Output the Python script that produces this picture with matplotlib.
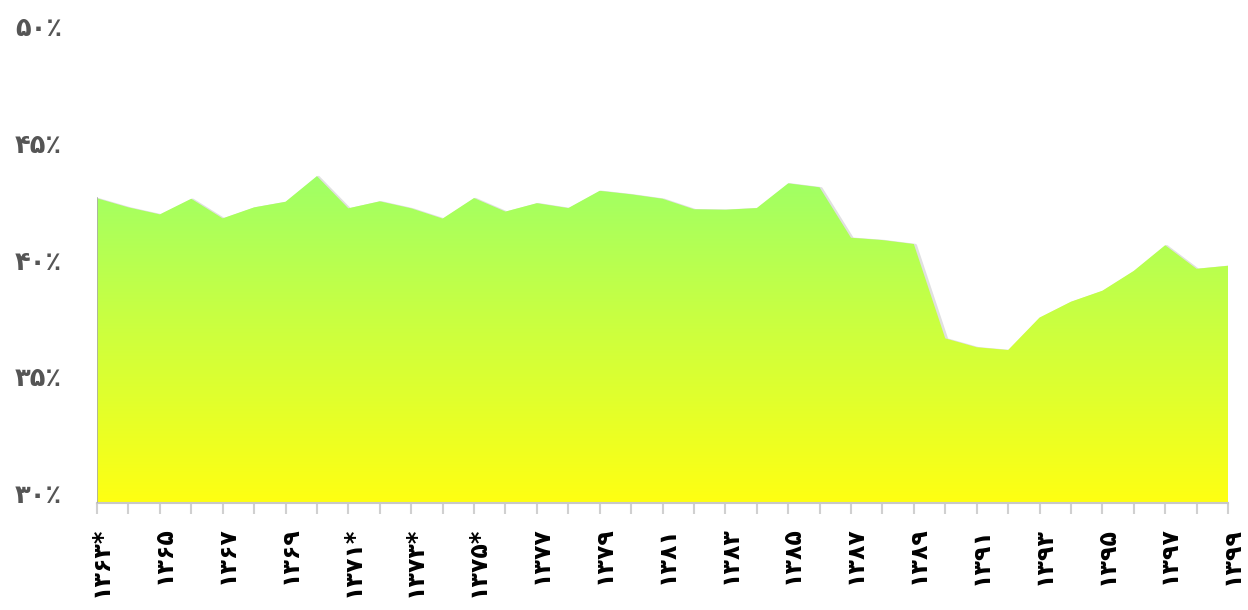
import numpy as np
import matplotlib.pyplot as plt
import matplotlib.transforms as mtransforms
from matplotlib.colors import LinearSegmentedColormap

# years 1363..1399 and the rate (percent)
years = list(range(1363, 1400))
rate = [43.05, 42.66, 42.36, 43.03, 42.19, 42.66, 42.90, 44.00, 42.62, 42.92,
        42.62, 42.18, 43.06, 42.48, 42.84, 42.63, 43.37, 43.22, 43.03, 42.58,
        42.56, 42.63, 43.69, 43.52, 41.36, 41.26, 41.09, 37.05, 36.67, 36.55,
        37.94, 38.62, 39.09, 39.94, 41.04, 40.03, 40.16]
label_years = years[::2]
starred = [1363, 1371, 1373, 1375]
y_ticks = [30, 35, 40, 45, 50]

FA = str.maketrans('0123456789', '۰۱۲۳۴۵۶۷۸۹')


def fa(n):
    return str(n).translate(FA)


fig = plt.figure(figsize=(12.48, 6.10), dpi=100)
ax = fig.add_axes([97 / 1248, 107 / 610, 1131 / 1248, 467 / 610])

# soft shadow, a bit down and right of the area
shadow = mtransforms.ScaledTranslation(1.5 / 100, -1.5 / 100, fig.dpi_scale_trans)
ax.fill_between(years, rate, 30, facecolor='none', edgecolor='#999999',
                linewidth=2.5, alpha=0.3, zorder=1,
                transform=ax.transData + shadow)
poly = ax.fill_between(years, rate, 30, facecolor='none', edgecolor='none', zorder=2)

grad = np.linspace(0, 1, 256).reshape(-1, 1)
cmap = LinearSegmentedColormap.from_list('gy', ['#ffff12', '#9fff66'])
im = ax.imshow(grad, extent=[years[0], years[-1], 30, max(rate)], origin='lower',
               aspect='auto', cmap=cmap, zorder=2)
im.set_clip_path(poly.get_paths()[0], transform=ax.transData)

# thin grey edge on the left side of the area
ax.plot([years[0], years[0]], [30, rate[0]], color='#aaaaaa', lw=1.2, zorder=3)

ax.set_xlim(years[0], years[-1])
ax.set_ylim(30, 50)

for s in ['top', 'right', 'left']:
    ax.spines[s].set_visible(False)
ax.spines['bottom'].set_color('#c8c8c8')
ax.spines['bottom'].set_linewidth(1.5)

ax.set_xticks(years, minor=True)
ax.set_xticks(label_years)
ax.set_xticklabels([fa(y) + ('*' if y in starred else '') for y in label_years],
                   rotation=90, ha='center', va='top', fontsize=17,
                   fontweight='bold', color='black', family=['DejaVu Sans'])
ax.tick_params(axis='x', which='both', length=8, width=1.5, color='#d0d0d0', pad=9)

ax.set_yticks(y_ticks)
ax.set_yticklabels([fa(v) + '٪' for v in y_ticks], ha='left', fontsize=18.5,
                   fontweight='bold', color='#555555', family=['DejaVu Sans'])
ax.tick_params(axis='y', length=0, pad=82 * 0.72)

up = mtransforms.ScaledTranslation(0, 10 / 100, fig.dpi_scale_trans)
for lab in ax.get_yticklabels():
    lab.set_transform(lab.get_transform() + up)
right = mtransforms.ScaledTranslation(4 / 100, 0, fig.dpi_scale_trans)
for lab in ax.get_xticklabels():
    lab.set_transform(lab.get_transform() + right)

fig.savefig('out.png', dpi=100)
